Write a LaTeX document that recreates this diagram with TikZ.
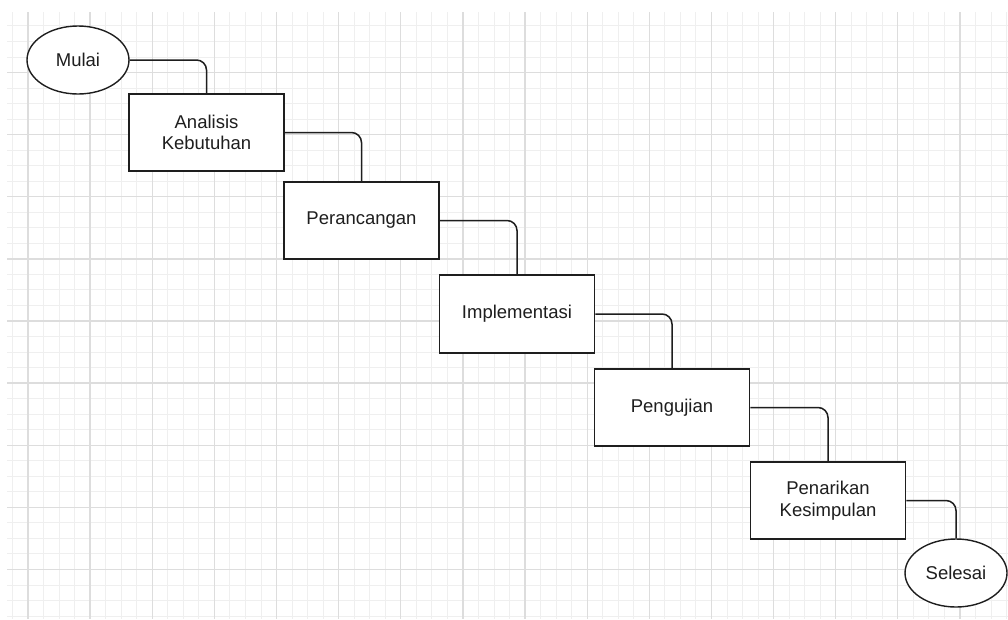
\documentclass[tikz,border=0pt]{standalone}
\usepackage{fontspec}
\setmainfont{Liberation Sans}
\usetikzlibrary{shapes.geometric}
\definecolor{minorc}{HTML}{EFEFEF}
\definecolor{majorc}{HTML}{DDDDDD}
\definecolor{inkc}{HTML}{1E1E1E}
\tikzset{
  minorgrid/.style={draw=minorc, line width=0.9pt},
  majorgrid/.style={draw=majorc, line width=1.3pt},
  stepbox/.style={draw=inkc, fill=white, line width=1.6pt, rectangle, minimum width=155pt, minimum height=77.5pt, inner sep=0pt, align=center, text=inkc, font=\fontsize{18.5}{21.7}\selectfont},
  terminal/.style={draw=inkc, fill=white, line width=1.4pt, ellipse, minimum width=102pt, minimum height=68pt, inner sep=0pt, text=inkc, font=\fontsize{18.5}{21.7}\selectfont},
  conn/.style={draw=inkc, line width=1.5pt, rounded corners=10pt}
}
\begin{document}
\begin{tikzpicture}[x=1pt,y=-1pt]
\useasboundingbox (0,0) rectangle (1008,619);
\fill[white] (0,0) rectangle (1008,619);
\begin{scope}
\clip (7,12) rectangle (1008,619);
\foreach \i in {-2,...,64} { \draw[minorgrid] ({28+\i*15.533},12) -- ({28+\i*15.533},619); }
\foreach \j in {-5,...,36} { \draw[minorgrid] (7,{72.5+\j*15.53}) -- (1008,{72.5+\j*15.53}); }
\foreach \i in {-1,...,16} { \draw[majorgrid] ({28+\i*62.13},12) -- ({28+\i*62.13},619); }
\foreach \j in {-2,...,9} { \draw[majorgrid] (7,{72.5+\j*62.12}) -- (1008,{72.5+\j*62.12}); }
\end{scope}

\node[terminal] (mulai) at (78,60) {Mulai};
\node[stepbox] (ana) at (206.5,132.5) {Analisis\\Kebutuhan};
\node[stepbox] (ran) at (361.5,220.5) {Perancangan};
\node[stepbox] (imp) at (517,314) {Implementasi};
\node[stepbox] (uji) at (672,407.5) {Pengujian};
\node[stepbox] (tarik) at (828,500.5) {Penarikan\\Kesimpulan};
\node[terminal] (selesai) at (956,573) {Selesai};

\draw[conn] (mulai.east) -| (ana.north);
\draw[conn] (ana.east) -| (ran.north);
\draw[conn] (ran.east) -| (imp.north);
\draw[conn] (imp.east) -| (uji.north);
\draw[conn] (uji.east) -| (tarik.north);
\draw[conn] (tarik.east) -| (selesai.north);
\end{tikzpicture}
\end{document}
